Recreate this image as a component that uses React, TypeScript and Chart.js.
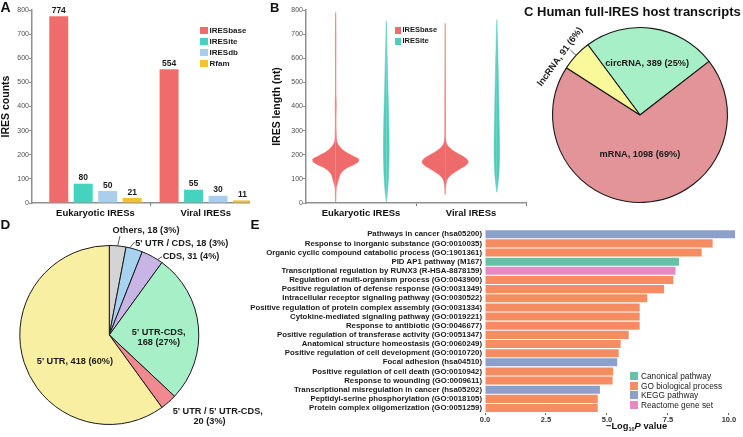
import React, { useEffect, useRef } from 'react';
import { Chart, registerables } from 'chart.js';

Chart.register(...registerables);

const FONT = '"Liberation Sans", Arial, Helvetica, sans-serif';
Chart.defaults.font.family = FONT;

// ---------------- Panel A data ----------------
const aCategories = ['Eukaryotic IRESs', 'Viral IRESs'];
const aSeriesNames = ['IRESbase', 'IRESite', 'IRESdb', 'Rfam'];
const aIRESbase = [774, 554];
const aIRESite = [80, 55];
const aIRESdb = [50, 30];
const aRfam = [21, 11];
const aYTicks = [0, 100, 200, 300, 400, 500, 600, 700, 800];

// ---------------- Panel B data ----------------
const bCategories = ['Eukaryotic IRESs', 'Viral IRESs'];
const bSeriesNames = ['IRESbase', 'IRESite'];
const bYTicks = [0, 100, 200, 300, 400, 500, 600, 700, 800];
// violin outlines: length (nt) and relative density
const eukBaseLen = [5, 40, 65, 80, 90, 100, 110, 120, 130, 140, 150, 160, 170, 180, 195, 210, 225, 240, 255, 280, 350, 410, 450, 550, 680, 790];
const eukBaseDens = [0.004, 0.015, 0.03, 0.07, 0.1, 0.13, 0.16, 0.2, 0.28, 0.4, 0.58, 0.8, 0.97, 1.0, 0.75, 0.45, 0.25, 0.12, 0.05, 0.025, 0.015, 0.025, 0.012, 0.01, 0.015, 0.003];
const eukSiteLen = [5, 40, 80, 130, 180, 230, 280, 330, 380, 430, 480, 530, 580, 630, 680, 720, 755];
const eukSiteDens = [0.0, 0.045, 0.08, 0.105, 0.12, 0.125, 0.12, 0.11, 0.1, 0.085, 0.07, 0.058, 0.045, 0.033, 0.02, 0.01, 0.0];
const viralBaseLen = [35, 60, 85, 100, 112, 125, 140, 155, 170, 185, 200, 215, 230, 245, 260, 300, 400, 500, 600, 700, 745];
const viralBaseDens = [0.004, 0.015, 0.05, 0.1, 0.2, 0.38, 0.62, 0.88, 1.0, 0.9, 0.65, 0.38, 0.18, 0.07, 0.03, 0.015, 0.015, 0.012, 0.008, 0.006, 0.003];
const viralSiteLen = [45, 80, 120, 170, 220, 280, 340, 400, 460, 520, 580, 640, 700, 760];
const viralSiteDens = [0.0, 0.05, 0.09, 0.115, 0.12, 0.115, 0.1, 0.09, 0.078, 0.065, 0.052, 0.037, 0.02, 0.0];

// ---------------- Panel C data ----------------
const cNames = ['circRNA', 'mRNA', 'lncRNA'];
const cCounts = [389, 1098, 91];
const cPercents = [25, 69, 6];

// ---------------- Panel D data ----------------
const dNames = ['Others', "5' UTR / CDS", 'CDS', "5' UTR-CDS", "5' UTR / 5' UTR-CDS", "5' UTR"];
const dCounts = [18, 18, 31, 168, 20, 418];
const dPercents = [3, 3, 4, 27, 3, 60];

// ---------------- Panel E data ----------------
const eTerms = [
  'Pathways in cancer (hsa05200)',
  'Response to inorganic substance (GO:0010035)',
  'Organic cyclic compound catabolic process (GO:1901361)',
  'PID AP1 pathway (M167)',
  'Transcriptional regulation by RUNX3 (R-HSA-8878159)',
  'Regulation of multi-organism process (GO:0043900)',
  'Positive regulation of defense response (GO:0031349)',
  'Intracellular receptor signaling pathway (GO:0030522)',
  'Positive regulation of protein complex assembly (GO:0031334)',
  'Cytokine-mediated signaling pathway (GO:0019221)',
  'Response to antibiotic (GO:0046677)',
  'Positive regulation of transferase activity (GO:0051347)',
  'Anatomical structure homeostasis (GO:0060249)',
  'Positive regulation of cell development (GO:0010720)',
  'Focal adhesion (hsa04510)',
  'Positive regulation of cell death (GO:0010942)',
  'Response to wounding (GO:0009611)',
  'Transcriptional misregulation in cancer (hsa05202)',
  'Peptidyl-serine phosphorylation (GO:0018105)',
  'Protein complex oligomerization (GO:0051259)',
];
const eValues = [10.25, 9.33, 8.88, 7.95, 7.81, 7.72, 7.34, 6.65, 6.34, 6.34, 6.34, 5.89, 5.56, 5.48, 5.42, 5.25, 5.23, 4.71, 4.62, 4.62];
const eTypes = ['KEGG', 'GO', 'GO', 'Canonical', 'Reactome', 'GO', 'GO', 'GO', 'GO', 'GO', 'GO', 'GO', 'GO', 'GO', 'KEGG', 'GO', 'GO', 'KEGG', 'GO', 'GO'];
const eTypeNames = ['Canonical', 'GO', 'KEGG', 'Reactome'];
const eLegendLabels = ['Canonical pathway', 'GO biological process', 'KEGG pathway', 'Reactome gene set'];
const eXTicks = [0, 2.5, 5, 7.5, 10];

// ---------------- styles ----------------
const aColors = ['#F06C6C', '#45D3BF', '#A9CFEC', '#F3C22F'];
const bColors = ['#EF6A6A', '#4ECDBC'];
const cColors = ['#A7EFC6', '#E39499', '#F9F99C'];
const dColors = ['#D4D4D4', '#A7D3F0', '#C9B4E6', '#A7EFC6', '#F08A90', '#F8EFA2'];
const eColorMap: Record<string, string> = { Canonical: '#66C2A5', GO: '#F58C62', KEGG: '#8DA0CB', Reactome: '#E78AC3' };
const AXIS_GREY = '#8f8f8f';
const VIOLIN_HALF = 0.42;

function ChartBox(props: { left: number; top: number; width: number; height: number; clipWidth?: number; make: () => any }) {
  const ref = useRef<HTMLCanvasElement>(null);
  useEffect(() => {
    const chart = new Chart(ref.current as HTMLCanvasElement, props.make());
    return () => chart.destroy();
  }, []);
  return (
    <div style={{ position: 'absolute', left: props.left, top: props.top, width: props.clipWidth ?? props.width, height: props.height, overflow: 'hidden' }}>
      <canvas ref={ref} width={props.width} height={props.height} style={{ width: props.width, height: props.height, display: 'block' }} />
    </div>
  );
}

const barValuePlugin = {
  id: 'barValues',
  afterDatasetsDraw(chart: any) {
    const ctx = chart.ctx as CanvasRenderingContext2D;
    ctx.save();
    ctx.font = `bold 8.5px ${FONT}`;
    ctx.fillStyle = '#1a1a1a';
    ctx.textAlign = 'center';
    ctx.textBaseline = 'bottom';
    chart.data.datasets.forEach((ds: any, di: number) => {
      const meta = chart.getDatasetMeta(di);
      meta.data.forEach((el: any, i: number) => {
        ctx.fillText(String(ds.data[i].y), el.x, el.y - 1.5);
      });
    });
    ctx.restore();
  },
};

// small tick mark between the two groups of panel A (drawn on the x scale)
const midTickPlugin = {
  id: 'midTick',
  afterDraw(chart: any) {
    const x = chart.scales.x;
    const ctx = chart.ctx as CanvasRenderingContext2D;
    const px = x.getPixelForValue(1.5);
    ctx.save();
    ctx.strokeStyle = '#777';
    ctx.lineWidth = 1;
    ctx.beginPath();
    ctx.moveTo(px, chart.chartArea.bottom);
    ctx.lineTo(px, chart.chartArea.bottom + 3);
    ctx.stroke();
    ctx.restore();
  },
};

type LabelSpec = {
  mode: 'inside' | 'tangent' | 'outside';
  r?: number;
  dAng?: number;
  leaderR?: [number, number];
  leader?: [number, number];
  offsets?: [number, number][];
};

function makePieLabelPlugin(id: string, texts: string[][], specs: LabelSpec[], fontSize: number) {
  return {
    id,
    afterDatasetsDraw(chart: any) {
      const ctx = chart.ctx as CanvasRenderingContext2D;
      const meta = chart.getDatasetMeta(0);
      ctx.save();
      ctx.font = `bold ${fontSize}px ${FONT}`;
      ctx.fillStyle = '#1a1a1a';
      ctx.strokeStyle = '#333';
      ctx.lineWidth = 0.8;
      ctx.textBaseline = 'middle';
      meta.data.forEach((arc: any, i: number) => {
        const s = specs[i];
        const lines = texts[i];
        const p = arc.getProps(['x', 'y', 'startAngle', 'endAngle', 'outerRadius'], true);
        const mid = (p.startAngle + p.endAngle) / 2;
        const ang = mid + ((s.dAng || 0) * Math.PI) / 180;
        const R = p.outerRadius;
        if (s.mode === 'inside') {
          const cx = p.x + Math.cos(ang) * R * (s.r || 0.5);
          const cy = p.y + Math.sin(ang) * R * (s.r || 0.5);
          ctx.textAlign = 'center';
          const gap = fontSize * 1.1;
          lines.forEach((t, j) => ctx.fillText(t, cx, cy + (j - (lines.length - 1) / 2) * gap));
        } else if (s.mode === 'tangent') {
          if (s.leaderR) {
            ctx.beginPath();
            ctx.moveTo(p.x + Math.cos(mid) * R * s.leaderR[0], p.y + Math.sin(mid) * R * s.leaderR[0]);
            ctx.lineTo(p.x + Math.cos(mid) * R * s.leaderR[1], p.y + Math.sin(mid) * R * s.leaderR[1]);
            ctx.stroke();
          }
          const cx = p.x + Math.cos(ang) * R * (s.r || 1.1);
          const cy = p.y + Math.sin(ang) * R * (s.r || 1.1);
          ctx.save();
          ctx.translate(cx, cy);
          ctx.rotate(ang + Math.PI / 2);
          ctx.textAlign = 'center';
          ctx.fillText(lines.join(' '), 0, 0);
          ctx.restore();
        } else {
          const ex = p.x + Math.cos(ang) * R;
          const ey = p.y + Math.sin(ang) * R;
          let ax = ex;
          let ay = ey;
          if (s.leader) {
            ax = ex + s.leader[0];
            ay = ey + s.leader[1];
            ctx.beginPath();
            ctx.moveTo(ex, ey);
            ctx.lineTo(ax, ay);
            ctx.stroke();
          }
          ctx.textAlign = 'left';
          lines.forEach((t, j) => {
            const o = (s.offsets && s.offsets[j]) || [0, 0];
            ctx.fillText(t, ax + o[0], ay + o[1]);
          });
        }
      });
      ctx.restore();
    },
  };
}

const yAxisCommon = (ticks: number[], title: string, width: number) => ({
  type: 'linear',
  min: 0,
  max: 800,
  afterBuildTicks: (s: any) => {
    s.ticks = ticks.map((v) => ({ value: v }));
  },
  ticks: { color: '#4d4d4d', font: { size: 7 }, padding: 0 },
  grid: { drawOnChartArea: false, tickLength: 3, color: AXIS_GREY },
  border: { display: true, color: AXIS_GREY, width: 1.5 },
  title: { display: true, text: title, color: '#111', font: { size: 10.5, weight: 'bold' }, padding: 0 },
  afterFit: (s: any) => {
    s.width = width;
  },
});

function makeA() {
  const values = [aIRESbase, aIRESite, aIRESdb, aRfam];
  return {
    type: 'bar',
    data: {
      datasets: aSeriesNames.map((name, si) => ({
        label: name,
        data: values[si].map((v, ci) => ({ x: ci + 1, y: v })),
        backgroundColor: aColors[si],
        barPercentage: 0.776,
        categoryPercentage: 0.887,
      })),
    },
    options: {
      responsive: false,
      animation: false,
      layout: { padding: { top: 10, right: 8, left: 0, bottom: 0 }, autoPadding: false },
      plugins: { legend: { display: false }, tooltip: { enabled: false } },
      scales: {
        x: {
          type: 'linear',
          min: 0.425,
          max: 2.6,
          offset: false,
          afterBuildTicks: (s: any) => {
            s.ticks = [1, 2].map((v) => ({ value: v }));
          },
          ticks: {
            autoSkip: false,
            maxRotation: 0,
            padding: 5,
            color: '#111',
            font: { size: 9.5, weight: 'bold' },
            callback: (v: any) => {
              const idx = Number(v) - 1;
              return Number.isInteger(idx) && aCategories[idx] ? aCategories[idx] : '';
            },
          },
          grid: { offset: false, display: false, drawTicks: false },
          border: { display: true, color: AXIS_GREY, width: 1.5 },
          afterFit: (s: any) => {
            s.height = 19;
          },
        },
        y: yAxisCommon(aYTicks, 'IRES counts', 32),
      },
    },
    plugins: [barValuePlugin, midTickPlugin],
  };
}

function makeB() {
  const groups = [
    { len: eukBaseLen, dens: eukBaseDens, center: 1 - 0.46, color: bColors[0] },
    { len: eukSiteLen, dens: eukSiteDens, center: 1 + 0.46, color: bColors[1] },
    { len: viralBaseLen, dens: viralBaseDens, center: 3 - 0.47, color: bColors[0] },
    { len: viralSiteLen, dens: viralSiteDens, center: 3 + 0.47, color: bColors[1] },
  ];
  const datasets: any[] = [];
  groups.forEach((g) => {
    [-1, 1].forEach((side) => {
      datasets.push({
        data: g.len.map((y, i) => ({ x: g.center + side * g.dens[i] * VIOLIN_HALF, y })),
        fill: { value: g.center },
        backgroundColor: g.color,
        borderColor: g.color,
        borderWidth: 0.5,
        pointRadius: 0,
        cubicInterpolationMode: 'monotone',
      });
    });
  });
  return {
    type: 'line',
    data: { datasets },
    options: {
      responsive: false,
      animation: false,
      indexAxis: 'y',
      layout: { padding: { top: 10, right: 4, left: 21, bottom: 0 }, autoPadding: false },
      plugins: { legend: { display: false }, tooltip: { enabled: false } },
      scales: {
        x: {
          type: 'linear',
          min: 0,
          max: 4,
          afterBuildTicks: (s: any) => {
            s.ticks = [1, 2, 3, 4].map((v) => ({ value: v }));
          },
          ticks: {
            autoSkip: false,
            maxRotation: 0,
            padding: 2,
            color: '#111',
            font: { size: 9.5, weight: 'bold' },
            callback: (v: any) => {
              const idx = (Number(v) - 1) / 2;
              return Number.isInteger(idx) && bCategories[idx] ? bCategories[idx] : '';
            },
          },
          grid: {
            drawOnChartArea: false,
            tickLength: 3,
            color: (c: any) => (c.tick && (c.tick.value === 2 || c.tick.value === 4) ? '#777' : 'rgba(0,0,0,0)'),
          },
          border: { display: true, color: AXIS_GREY, width: 1.5 },
          afterFit: (s: any) => {
            s.height = 19;
          },
        },
        y: yAxisCommon(bYTicks, 'IRES length (nt)', 35),
      },
    },
  };
}

function makeC() {
  const texts = cNames.map((n, i) => [`${n}, ${cCounts[i]} (${cPercents[i]}%)`]);
  const specs: LabelSpec[] = [
    { mode: 'inside', r: 0.6 },
    { mode: 'inside', r: 0.45, dAng: 2.7 },
    { mode: 'tangent', r: 1.13, dAng: -7, leaderR: [1.0, 1.09] },
  ];
  return {
    type: 'pie',
    data: {
      labels: cNames,
      datasets: [{ data: cCounts, backgroundColor: cColors, borderColor: '#1a1a1a', borderWidth: 1.1 }],
    },
    options: {
      responsive: false,
      animation: false,
      rotation: -36.6,
      layout: { padding: { left: 32, right: 15, top: 7, bottom: 12 } },
      plugins: { legend: { display: false }, tooltip: { enabled: false } },
    },
    plugins: [makePieLabelPlugin('cLabels', texts, specs, 9.2)],
  };
}

function makeD() {
  const full = dNames.map((n, i) => [`${n}, ${dCounts[i]} (${dPercents[i]}%)`]);
  const split = dNames.map((n, i) => [`${n},`, `${dCounts[i]} (${dPercents[i]}%)`]);
  const texts = [full[0], full[1], full[2], split[3], split[4], full[5]];
  const specs: LabelSpec[] = [
    { mode: 'outside', leader: [2.2, -9.7], offsets: [[-7.3, -5.7]] },
    { mode: 'outside', dAng: -3, leader: [5, -6], offsets: [[0.5, 1.5]] },
    { mode: 'outside', dAng: 3.8, leader: [4.5, -3], offsets: [[0.7, -0.5]] },
    { mode: 'inside', r: 0.553, dAng: 8 },
    { mode: 'outside', offsets: [[4.2, 9.5], [25, 19.5]] },
    { mode: 'inside', r: 0.486, dAng: -19.7 },
  ];
  return {
    type: 'pie',
    data: {
      labels: dNames,
      datasets: [{ data: dPercents, backgroundColor: dColors, borderColor: '#1a1a1a', borderWidth: 1 }],
    },
    options: {
      responsive: false,
      animation: false,
      rotation: 0,
      layout: { padding: { left: 19.3, right: 80.7, top: 23, bottom: 12 } },
      plugins: { legend: { display: false }, tooltip: { enabled: false } },
    },
    plugins: [makePieLabelPlugin('dLabels', texts, specs, 9.2)],
  };
}

function makeE() {
  return {
    type: 'bar',
    data: {
      labels: eTerms,
      datasets: [
        {
          data: eValues,
          backgroundColor: eTypes.map((t) => eColorMap[t]),
          barPercentage: 0.88,
          categoryPercentage: 1,
        },
      ],
    },
    options: {
      responsive: false,
      animation: false,
      indexAxis: 'y',
      layout: { padding: { top: 7.4, right: 6.7, left: 0, bottom: 0 }, autoPadding: false },
      plugins: { legend: { display: false }, tooltip: { enabled: false } },
      scales: {
        y: {
          ticks: { autoSkip: false, color: '#1a1a1a', font: { size: 7.8, weight: 'bold' }, padding: 3 },
          grid: { display: false, drawTicks: false },
          border: { display: false },
          afterFit: (s: any) => {
            s.width = 235;
          },
        },
        x: {
          type: 'linear',
          min: 0,
          max: 10.3,
          afterBuildTicks: (s: any) => {
            s.ticks = eXTicks.map((v) => ({ value: v }));
          },
          ticks: {
            autoSkip: false,
            maxRotation: 0,
            padding: 0,
            color: '#333',
            font: { size: 7.5, weight: 'bold' },
            callback: (v: any) => Number(v).toFixed(1),
          },
          grid: { drawOnChartArea: false, tickLength: 2.5, color: '#666' },
          border: { display: false },
          afterFit: (s: any) => {
            s.height = 24.4;
          },
        },
      },
    },
  };
}

function Txt(props: { x: number; y: number; size: number; bold?: boolean; color?: string; children: React.ReactNode }) {
  return (
    <div
      style={{
        position: 'absolute',
        left: props.x,
        top: props.y,
        fontSize: props.size,
        lineHeight: `${props.size}px`,
        fontWeight: props.bold === false ? 'normal' : 'bold',
        whiteSpace: 'nowrap',
        color: props.color || '#111',
      }}
    >
      {props.children}
    </div>
  );
}

function LegendItem(props: { x: number; y: number; w: number; h: number; color: string; text: string; size: number; bold: boolean; gap: number }) {
  return (
    <div style={{ position: 'absolute', left: props.x, top: props.y, height: props.h, display: 'flex', alignItems: 'center', whiteSpace: 'nowrap' }}>
      <span style={{ display: 'inline-block', width: props.w, height: props.h, background: props.color, marginRight: props.gap }} />
      <span style={{ fontSize: props.size, lineHeight: `${props.h}px`, fontWeight: props.bold ? 'bold' : 'normal', color: '#1a1a1a' }}>{props.text}</span>
    </div>
  );
}

export default function App() {
  return (
    <div style={{ position: 'fixed', left: 0, top: 0, width: 743, height: 437, background: '#fff', overflow: 'hidden', fontFamily: FONT }}>
      <ChartBox left={0} top={0} width={280} clipWidth={250} height={222} make={makeA} />
      <ChartBox left={250} top={0} width={280} height={222} make={makeB} />
      <ChartBox left={520} top={20} width={223} height={195} make={makeC} />
      <ChartBox left={250} top={222} width={493} height={215} make={makeE} />
      <ChartBox left={0} top={222} width={280} height={215} make={makeD} />

      <Txt x={0.5} y={0} size={14}>A</Txt>
      <Txt x={270} y={1} size={13}>B</Txt>
      <Txt x={524} y={5} size={13}>C</Txt>
      <Txt x={537} y={5} size={13}>Human full-IRES host transcripts</Txt>
      <Txt x={0.5} y={218.3} size={13.5}>D</Txt>
      <Txt x={250.5} y={218.3} size={13.5}>E</Txt>

      {aSeriesNames.map((n, i) => (
        <LegendItem key={n} x={200} y={26.5 + i * 11} w={8} h={7} color={aColors[i]} text={n} size={8} bold gap={1.5} />
      ))}
      {bSeriesNames.map((n, i) => (
        <LegendItem key={n} x={395} y={27 + i * 11} w={6} h={6.5} color={bColors[i]} text={n} size={7.5} bold gap={1.5} />
      ))}
      {eTypeNames.map((t, i) => (
        <LegendItem key={t} x={630} y={372 + i * 9.7} w={8} h={8} color={eColorMap[t]} text={eLegendLabels[i]} size={8.3} bold={false} gap={3} />
      ))}

      <div style={{ position: 'absolute', left: 606, top: 422, fontSize: 9.3, lineHeight: '9.3px', fontWeight: 'bold', whiteSpace: 'nowrap', color: '#111' }}>
        −Log<sub style={{ fontSize: 5.5, verticalAlign: 'baseline', position: 'relative', top: 2 }}>10</sub>
        <i>P</i> value
      </div>
    </div>
  );
}
